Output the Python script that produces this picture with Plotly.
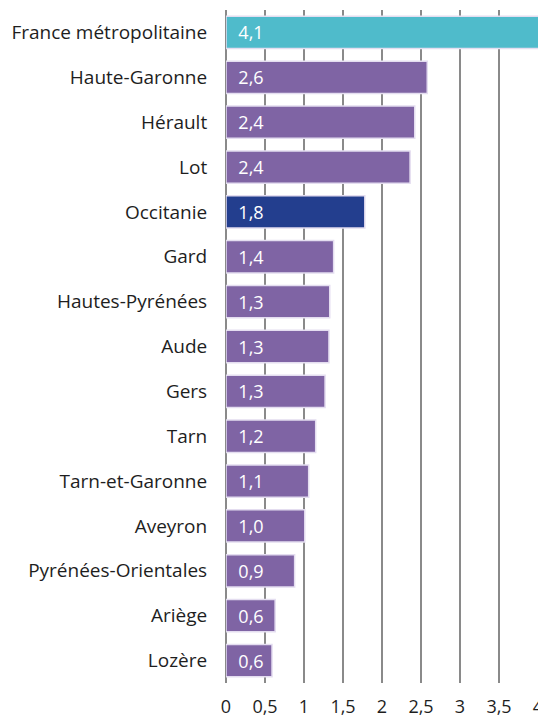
import plotly.graph_objects as go

categories = ["France métropolitaine", "Haute-Garonne", "Hérault", "Lot", "Occitanie",
              "Gard", "Hautes-Pyrénées", "Aude", "Gers", "Tarn", "Tarn-et-Garonne",
              "Aveyron", "Pyrénées-Orientales", "Ariège", "Lozère"]
values = [4.1, 2.58, 2.42, 2.36, 1.78, 1.38, 1.33, 1.32, 1.27, 1.15, 1.06, 1.01, 0.88, 0.63, 0.59]
value_labels = ["4,1", "2,6", "2,4", "2,4", "1,8", "1,4", "1,3", "1,3", "1,3", "1,2",
                "1,1", "1,0", "0,9", "0,6", "0,6"]
tick_vals = [0, 0.5, 1, 1.5, 2, 2.5, 3, 3.5, 4]
tick_text = ["0", "0,5", "1", "1,5", "2", "2,5", "3", "3,5", "4"]

PURPLE = "#7F64A4"
CYAN = "#4FBBCB"
NAVY = "#233E8E"
colors = []
for c in categories:
    if c == "France métropolitaine":
        colors.append(CYAN)
    elif c == "Occitanie":
        colors.append(NAVY)
    else:
        colors.append(PURPLE)

FONT = "Open Sans"

fig = go.Figure(go.Bar(
    x=values, y=categories, orientation="h",
    marker=dict(color=colors, line=dict(color="#E4DDF0", width=1.5)),
    width=0.72,
    text=["\u00a0\u00a0" + t for t in value_labels],
    textposition="inside", insidetextanchor="start",
    textfont=dict(color="white", size=18, family=FONT),
    cliponaxis=True,
    hoverinfo="skip",
))

fig.update_layout(
    width=538, height=720,
    margin=dict(l=226, r=0, t=10, b=37, autoexpand=False),
    plot_bgcolor="white", paper_bgcolor="white",
    showlegend=False,
    uniformtext=dict(minsize=18, mode="show"),
    font=dict(family=FONT, size=19, color="#1e1e1e"),
)
fig.update_xaxes(
    range=[0, 4], tickvals=tick_vals, ticktext=tick_text,
    showgrid=True, gridcolor="#8a8a8a", gridwidth=1.5,
    zeroline=True, zerolinecolor="#8a8a8a", zerolinewidth=1.5,
    showline=False, ticks="outside", ticklen=7, tickcolor="rgba(0,0,0,0)",
    tickfont=dict(size=18, family=FONT, color="#1e1e1e"),
    ticklabeloverflow="allow", automargin=False,
    fixedrange=True,
)
fig.update_yaxes(
    autorange="reversed", showgrid=False, showline=False,
    ticks="outside", ticklen=14, tickcolor="rgba(0,0,0,0)",
    tickfont=dict(size=19, family=FONT, color="#1e1e1e"),
    automargin=False, fixedrange=True,
)

fig.write_html(
    "out.html",
    config={"displayModeBar": False},
    post_script="document.body.style.margin='0';document.body.style.overflow='hidden';",
)
